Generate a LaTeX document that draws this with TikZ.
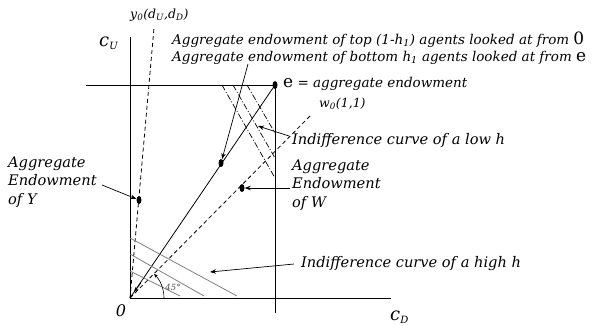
\documentclass[tikz,border=0pt]{standalone}
\usepackage{fontspec}
\setmainfont{DejaVu Serif}
\usetikzlibrary{arrows.meta,shapes.geometric}
\begin{document}
\begin{tikzpicture}[x=1pt,y=-1pt,
  font=\fontsize{13.5}{15}\selectfont\itshape,
  lbl/.style={anchor=west, inner sep=0pt},
  big/.style={font=\fontsize{14.6}{18.5}\selectfont\itshape},
  axlbl/.style={anchor=west, inner sep=0pt, font=\fontsize{18}{18}\selectfont\itshape},
  ax/.style={line width=0.9pt},
  arr/.style={line width=0.7pt, -{Stealth[length=6pt,width=4.5pt]}},
  dsh/.style={line width=0.8pt, dash pattern=on 4pt off 3pt},
  dd/.style={line width=0.7pt, dash pattern=on 6pt off 2pt on 1pt off 2pt},
  gr/.style={line width=0.8pt, gray},
  dot/.style={fill, ellipse, minimum width=5pt, minimum height=8pt, inner sep=0pt}]
\path[use as bounding box] (0,0) rectangle (592,325);

% key points
\coordinate (O) at (130,298);
\coordinate (ytop) at (130,37);
\coordinate (xend) at (391,298);
\coordinate (tl) at (86,85);
\coordinate (vb) at (275,313);
\coordinate (y0end) at (154,28);
\coordinate (w0end) at (312,114);

\node[dot] (e) at (275,85) {};
\node[dot] (m) at (221,163) {};
\node[dot] (W) at (242,188) {};
\node[dot] (Y) at (139,200) {};

% axes
\draw[ax] (O) -- (ytop);
\draw[ax] (O) -- (xend);
\draw[ax] (tl) -- (e.center);
\draw[ax] (e.center) -- (vb);

% rays
\draw[dsh] (O) -- (y0end);
\draw[dsh] (O) -- (w0end);
\draw[line width=0.8pt] (O) -- (e.center);
\coordinate (tipS) at (141,283);
\coordinate (tipE) at (134,292);
\draw[line width=0.6pt, -{Stealth[length=5pt,width=4pt]}] (tipS) -- (tipE);

% indifference curves high h
\coordinate (g1a) at (130,238); \coordinate (g1b) at (237,296);
\coordinate (g2a) at (130,254); \coordinate (g2b) at (204,296);
\coordinate (g3a) at (130,271); \coordinate (g3b) at (180,296);
\draw[gr] (g1a) -- (g1b);
\draw[gr] (g2a) -- (g2b);
\draw[gr] (g3a) -- (g3b);

% indifference curves low h
\coordinate (d1a) at (222,85); \coordinate (d1b) at (275,178);
\coordinate (d2a) at (233,85); \coordinate (d2b) at (275,158);
\coordinate (d3a) at (247,85); \coordinate (d3b) at (275,133);
\draw[dd] (d1a) -- (d1b);
\draw[dd] (d2a) -- (d2b);
\draw[dd] (d3a) -- (d3b);

% 45 degree arc
\draw[line width=0.6pt, -{Stealth[length=4pt,width=3.5pt]}] ([xshift=34pt]O) arc[start angle=0, end angle=45, radius=34pt];
\node[font=\fontsize{8.5}{9}\selectfont\itshape, text=black!70, inner sep=0pt] (ang) at (173,287) {45°};

% labels
\node[lbl, font=\fontsize{12.5}{14}\selectfont\itshape] (yl) at (130,15) {y\textsubscript{0}(d\textsubscript{U},d\textsubscript{D})};
\node[axlbl] (cU) at (99,43) {c\textsubscript{\fontsize{10}{10}\selectfont U}};
\node[axlbl] (cD) at (390,317) {c\textsubscript{\fontsize{10}{10}\selectfont D}};
\node[font=\fontsize{16}{16}\selectfont\itshape, inner sep=0pt] (Ol) at (121,311) {0};

\node[lbl] (t1) at (172,40) {Aggregate endowment of top (1-h\textsubscript{1}) agents looked at from {\fontsize{17}{17}\selectfont\upshape 0}};
\node[lbl] (t2) at (172,58) {Aggregate endowment of bottom h\textsubscript{1} agents looked at from {\fontsize{17}{17}\selectfont\upshape e}};
\node[lbl] (el) at (283,84) {{\fontsize{17}{17}\selectfont\upshape e} = aggregate endowment};
\node[lbl, font=\fontsize{12.5}{14}\selectfont\itshape] (wl) at (319,104) {w\textsubscript{0}(1,1)};
\node[lbl, big] (lowl) at (292,140) {Indifference curve of a low h};
\node[lbl, big, align=left] (Wl) at (292,185) {Aggregate\\Endowment\\of W};
\node[lbl, big, align=left] (Yl) at (8,182) {Aggregate\\Endowment\\of Y};
\node[lbl, big] (highl) at (301,264) {Indifference curve of a high h};

% arrows
\coordinate (a1s) at (248,64);
\draw[arr] (a1s) -- (m);
\coordinate (a2s) at (289,136);
\coordinate (a2e) at (258,126);
\draw[arr] (a2s) -- (a2e);
\coordinate (a3s) at (290,188);
\draw[arr] (a3s) -- (W);
\coordinate (a4s) at (102,185);
\draw[arr] (a4s) -- (Y);
\coordinate (a5s) at (294,264);
\coordinate (a5e) at (210,272);
\draw[arr] (a5s) -- (a5e);
\end{tikzpicture}
\end{document}
